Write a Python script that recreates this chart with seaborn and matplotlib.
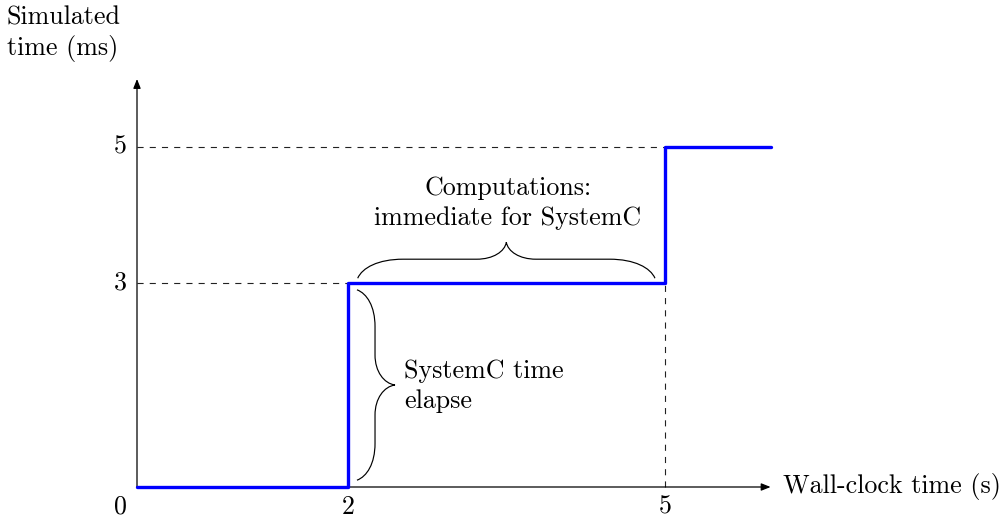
import numpy as np
import pandas as pd
import seaborn as sns
import matplotlib
matplotlib.use("Agg")
import matplotlib.pyplot as plt
from matplotlib.path import Path
from matplotlib.patches import PathPatch

# ---- data ----
wall_clock = [0, 2, 5, 6]          # seconds
simulated = [0, 3, 5, 5]           # ms
x_ticks = [0, 2, 5]
y_ticks = [3, 5]
x_label = "Wall-clock time (s)"
y_label = "Simulated\ntime (ms)"
note_compute = "Computations:\nimmediate for SystemC"
note_elapse = "SystemC time\nelapse"

sns.set_style("white")
plt.rcParams['font.family'] = ['cmr10', 'DejaVu Serif']
plt.rcParams['mathtext.fontset'] = 'cm'
plt.rcParams['axes.unicode_minus'] = False
plt.rcParams['text.color'] = 'black'
FS = 18.7

fig = plt.figure(figsize=(10.05, 5.19), dpi=100)
ax = fig.add_axes([0, 0, 1, 1])
ux, uy = 105.6, 68.0
x0p, y0p = 137, 487
ax.set_xlim(-x0p / ux, (1005 - x0p) / ux)
ax.set_ylim(-(519 - y0p) / uy, y0p / uy)
ax.axis('off')

# guide dashed lines
dash_kw = dict(color='#222222', lw=0.8, linestyle=(0, (5.5, 5.5)))
ax.plot([0, 5], [5, 5], **dash_kw)
ax.plot([0, 2], [3, 3], **dash_kw)
ax.plot([5, 5], [0, 3], **dash_kw)

# axes with arrows
arrow_kw = dict(arrowstyle='-|>,head_length=0.55,head_width=0.22', color='black', lw=0.9,
                shrinkA=0, shrinkB=0)
ax.annotate('', xy=(6, 0), xytext=(0, 0), arrowprops=arrow_kw)
ax.annotate('', xy=(0, 6), xytext=(0, 0), arrowprops=arrow_kw)

# step line
df = pd.DataFrame({'wall': wall_clock, 'sim': simulated})
sns.lineplot(data=df, x='wall', y='sim', ax=ax, color='#0000ff', lw=2.4,
             drawstyle='steps-post', sort=False, zorder=5)


def brace(ax, a0, a1, b0, bm, bt, ce, ct, vertical=False):
    d = 1 if a1 > a0 else -1
    am = (a0 + a1) / 2
    pts = [
        (a0, b0),
        (a0 + d * 0.1 * ce, b0 + 0.55 * (bm - b0)), (a0 + d * 0.45 * ce, bm), (a0 + d * ce, bm),
        (am - d * ct, bm),
        (am - d * 0.45 * ct, bm), (am - d * 0.05 * ct, bm + 0.45 * (bt - bm)), (am, bt),
        (am + d * 0.05 * ct, bm + 0.45 * (bt - bm)), (am + d * 0.45 * ct, bm), (am + d * ct, bm),
        (a1 - d * ce, bm),
        (a1 - d * 0.45 * ce, bm), (a1 - d * 0.1 * ce, b0 + 0.55 * (bm - b0)), (a1, b0),
    ]
    codes = [Path.MOVETO,
             Path.CURVE4, Path.CURVE4, Path.CURVE4,
             Path.LINETO,
             Path.CURVE4, Path.CURVE4, Path.CURVE4,
             Path.CURVE4, Path.CURVE4, Path.CURVE4,
             Path.LINETO,
             Path.CURVE4, Path.CURVE4, Path.CURVE4]
    if vertical:
        pts = [(b, a) for a, b in pts]
    ax.add_patch(PathPatch(Path(pts, codes), fill=False, lw=0.85, color='black', zorder=4))


brace(ax, 2.09, 4.905, 3.07, 3.35, 3.60, 0.43, 0.28)
brace(ax, 2.90, 0.10, 2.083, 2.254, 2.443, 0.54, 0.44, vertical=True)

# texts
ax.text(3.51, (487 - 203) / uy, note_compute, ha='center', va='center', fontsize=FS,
        linespacing=1.3)
ax.text((404 - x0p) / ux, (487 - 386) / uy, note_elapse, ha='left', va='center', fontsize=FS,
        linespacing=1.3)
ax.text((783 - x0p) / ux, 0, x_label, ha='left', va='center', fontsize=FS)
ax.text((63 - x0p) / ux, (487 - 34) / uy, y_label, ha='center', va='center', fontsize=FS,
        linespacing=1.3)

for xt in x_ticks:
    xp = (120 - x0p) / ux if xt == 0 else xt
    ax.text(xp, (487 - 507) / uy, str(xt), ha='center', va='center', fontsize=FS)
for yt in y_ticks:
    ax.text((120 - x0p) / ux, yt, str(yt), ha='center', va='center', fontsize=FS)

fig.savefig('out.png', dpi=100)
